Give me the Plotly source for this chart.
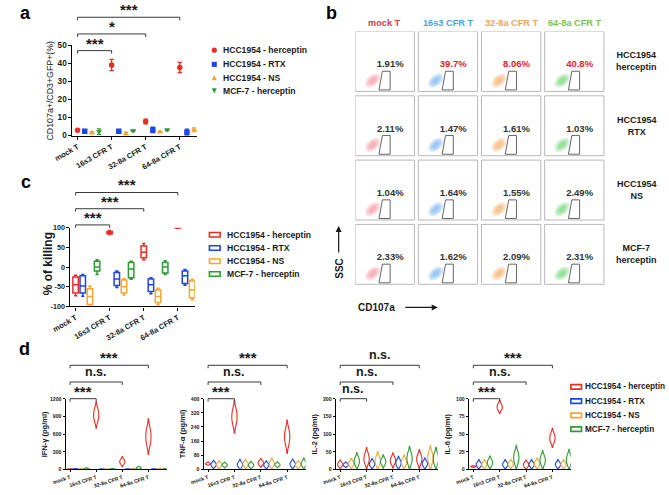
import numpy as np
import plotly.graph_objects as go

W, H = 669, 495
FONT = "Arial, Liberation Sans, sans-serif"
INK = "#1a1a1a"

# ------------------------------------------------------------------ data
categories = ["mock T", "16s3 CFR T", "32-8a CFR T", "64-8a CFR T"]
series_names = ["HCC1954 - herceptin", "HCC1954 - RTX", "HCC1954 - NS", "MCF-7 - herceptin"]
series_colors = ["#ee2a24", "#1c46e8", "#f7a531", "#2f9b32"]
series_symbols = ["circle", "square", "triangle-up", "triangle-down"]

# panel a: CD107a+ / CD3+GFP+ (%) mean and SD
a_herceptin_mean = [2.9, 39.1, 7.8, 37.7]
a_herceptin_sd = [0.3, 3.1, 1.3, 2.8]
a_rtx_mean = [2.4, 2.4, 3.1, 1.8]
a_rtx_sd = [0.4, 0.3, 1.5, 1.8]
a_ns_mean = [1.5, 1.1, 2.0, 3.2]
a_ns_sd = [0.6, 0.8, 0.4, 1.0]
a_mcf7_mean = [2.2, 2.7, 3.2, 2.0]
a_mcf7_sd = [1.5, 0.3, 0.4, 1.0]

# panel b: flow cytometry gates (% CD107a+)
b_rows = ["HCC1954<br>herceptin", "HCC1954<br>RTX", "HCC1954<br>NS", "MCF-7<br>herceptin"]
b_column_colors = ["#d83a55", "#4aa3dc", "#f2a462", "#7cc253"]
b_blob_colors = ["#f5a0aa", "#84bbf2", "#f6b576", "#7ddc82"]
b_pct_herceptin = [1.91, 39.7, 8.06, 40.8]
b_pct_rtx = [2.11, 1.47, 1.61, 1.03]
b_pct_ns = [1.04, 1.64, 1.55, 2.49]
b_pct_mcf7 = [2.33, 1.62, 2.09, 2.31]

# panel c: % of killing (box statistics)
c_herceptin_min = [-73, 83, 19, 99]
c_herceptin_q1 = [-66, 85, 24, 99.3]
c_herceptin_med = [-45, 88, 38, 99.6]
c_herceptin_q3 = [-25, 91, 54, 99.8]
c_herceptin_max = [-21, 93, 60, 100]
c_rtx_min = [-74, -52, -68, -46]
c_rtx_q1 = [-66, -47, -62, -42]
c_rtx_med = [-48, -30, -45, -22]
c_rtx_q3 = [-22, -14, -30, -10]
c_rtx_max = [-19, -10, -27, -6]
c_ns_min = [-100, -71, -96, -83]
c_ns_q1 = [-95, -66, -90, -78]
c_ns_med = [-75, -50, -75, -58]
c_ns_q3 = [-55, -33, -58, -35]
c_ns_max = [-48, -29, -54, -31]
c_mcf7_min = [-19, -31, -19, -10]
c_mcf7_q1 = [-10, -27, -15, -6]
c_mcf7_med = [0, -5, 0, 5]
c_mcf7_q3 = [15, 12, 12, 15]
c_mcf7_max = [19, 15, 16, 19]

# panel d: cytokine replicates (pg/ml), one list per category
ifng_herceptin = [[4, 6, 8], [841, 924, 1007], [101, 132, 163], [444, 556, 668]]
ifng_rtx = [[5, 7, 10], [3, 5, 7], [3, 5, 7], [3, 5, 8]]
ifng_ns = [[4, 7, 10], [3, 5, 7], [5, 8, 11], [5, 8, 11]]
ifng_mcf7 = [[8, 13, 18], [5, 8, 11], [15, 25, 35], [3, 5, 8]]

tnfa_herceptin = [[29, 32, 36], [263, 297, 332], [27, 36, 46], [149, 184, 219]]
tnfa_rtx = [[18, 27, 36], [16, 27, 38], [17, 25, 34], [19, 30, 40]]
tnfa_ns = [[17, 26, 35], [20, 30, 40], [21, 32, 44], [17, 26, 35]]
tnfa_mcf7 = [[19, 25, 31], [16, 24, 32], [20, 26, 32], [21, 32, 44]]

il2_herceptin = [[10, 14, 19], [19, 30, 42], [17, 25, 33], [19, 29, 39]]
il2_rtx = [[10, 13, 16], [10, 15, 21], [11, 18, 25], [10, 16, 22]]
il2_ns = [[11, 16, 22], [15, 24, 34], [13, 20, 28], [19, 32, 45]]
il2_mcf7 = [[14, 23, 32], [15, 22, 29], [19, 31, 44], [18, 30, 42]]

il6_herceptin = [[3.5, 4, 4.5], [85, 88, 92], [4, 6.5, 9], [39.5, 44.5, 49.5]]
il6_rtx = [[4.5, 7, 9.5], [4.5, 7, 9.5], [4.5, 7, 9.5], [4.5, 7, 9.5]]
il6_ns = [[4.5, 7, 9.5], [5, 7.5, 10], [5, 8, 11], [4.5, 7, 9.5]]
il6_mcf7 = [[6, 9.5, 13], [10, 16.5, 23], [8, 13, 18], [8, 13.5, 19]]

d_titles = ["IFN-\u03b3 (pg/ml)", "TNF-\u03b1 (pg/ml)", "IL-2 (pg/ml)", "IL-6 (pg/ml)"]
d_yticks = [[0, 300, 600, 900, 1200], [0, 80, 160, 240, 320, 400], [0, 50, 100, 150, 200], [0, 25, 50, 75, 100]]
d_sig = [["***", "n.s.", "***"], ["***", "n.s.", "***"], ["n.s.", "n.s.", "n.s."], ["***", "n.s.", "***"]]
a_sig = ["***", "*", "***"]
c_sig = ["***", "***", "***"]

# ------------------------------------------------------------------ geometry
group_offsets = [0.0, 0.21, 0.42, 0.63]
RANGE_AC = [-0.15, 3.5]
RANGE_D = [-0.17, 3.7]


def xdom(l, r):
    return [l / W, r / W]


def ydom(t, b):
    return [1 - b / H, 1 - t / H]


def px_x(dom_px, rng, v):
    return dom_px[0] + (v - rng[0]) / (rng[1] - rng[0]) * (dom_px[1] - dom_px[0])


fig = go.Figure()
shapes = []
ann = []


def cat_xaxis(dom_px, rng, anchor, fsize, angle):
    return dict(domain=xdom(*dom_px), range=rng, anchor=anchor, tickmode="array",
                tickvals=[0, 1, 2, 3], ticktext=categories, tickangle=angle,
                tickfont=dict(size=fsize, family=FONT, color=INK, weight="bold"),
                showline=True, linecolor="black", linewidth=1.2, ticks="outside",
                ticklen=3, tickwidth=1, tickcolor="black", showgrid=False,
                zeroline=False, fixedrange=True)


def num_yaxis(dom_px, rng, anchor, tickvals, fsize):
    return dict(domain=ydom(*dom_px), range=rng, anchor=anchor, tickmode="array",
                tickvals=tickvals, ticktext=[str(v) for v in tickvals],
                tickfont=dict(size=fsize, family=FONT, color=INK, weight="bold"),
                showline=True, linecolor="black", linewidth=1.2, ticks="outside",
                ticklen=3, tickwidth=1, tickcolor="black", showgrid=False,
                zeroline=False, fixedrange=True)


def bracket(dom_px, rng, x1, ypx, label, fsize):
    l = px_x(dom_px, rng, 0)
    r = px_x(dom_px, rng, x1)
    col = "#3a3a3a"
    for (xa, ya, xb, yb) in [(l, ypx, r, ypx), (l, ypx, l, ypx + 3), (r, ypx, r, ypx + 3)]:
        shapes.append(dict(type="line", xref="paper", yref="paper", x0=xa / W, x1=xb / W,
                           y0=1 - ya / H, y1=1 - yb / H, line=dict(color=col, width=1)))
    star = label.startswith("*")
    ann.append(dict(x=(l + r) / 2 / W, y=1 - (ypx + (3 if star else -1)) / H, xref="paper", yref="paper",
                    text=label, showarrow=False, xanchor="center", yanchor="bottom",
                    font=dict(size=fsize + (3 if star else 0.5), family=FONT, color=INK, weight="bold")))


def rotated_label(xpx, ypx, text, size, bold=True):
    ann.append(dict(x=xpx / W, y=1 - ypx / H, xref="paper", yref="paper", text=text, textangle=-90,
                    showarrow=False, xanchor="center", yanchor="middle",
                    font=dict(size=size, family=FONT, color=INK, weight="bold" if bold else "normal")))


def panel_letter(xpx, ypx, t):
    ann.append(dict(x=xpx / W, y=1 - ypx / H, xref="paper", yref="paper", text=t, showarrow=False,
                    xanchor="center", yanchor="middle",
                    font=dict(size=18, family=FONT, color="black", weight="bold")))


def legend_text(xpx, ypx, t, size=8.6):
    ann.append(dict(x=xpx / W, y=1 - ypx / H, xref="paper", yref="paper", text=t, showarrow=False,
                    xanchor="left", yanchor="middle", borderpad=0,
                    font=dict(size=size, family=FONT, color=INK, weight="bold")))


def legend_rects(x0, ys, tx, size=8.6):
    for name, col, ypx in zip(series_names, series_colors, ys):
        shapes.append(dict(type="rect", xref="paper", yref="paper", x0=x0 / W, x1=(x0 + 11) / W,
                           y0=1 - (ypx + 2.3) / H, y1=1 - (ypx - 2.3) / H,
                           line=dict(color=col, width=1.6), fillcolor="white"))
        legend_text(tx, ypx, name, size)


# ------------------------------------------------------------------ panel a
A_X, A_Y = (55, 183), (42, 134)
a_means = [a_herceptin_mean, a_rtx_mean, a_ns_mean, a_mcf7_mean]
a_sds = [a_herceptin_sd, a_rtx_sd, a_ns_sd, a_mcf7_sd]
for g in range(4):
    fig.add_trace(go.Scatter(
        x=[k + group_offsets[g] for k in range(4)], y=a_means[g], mode="markers",
        marker=dict(symbol=series_symbols[g], size=5.5, color=series_colors[g], line=dict(width=0)),
        error_y=dict(type="data", array=a_sds[g], color=series_colors[g], thickness=1.3, width=2.2),
        cliponaxis=False, showlegend=False, xaxis="x", yaxis="y", hoverinfo="skip"))

for i, (k, ypx) in enumerate(zip([3, 2, 1], [13.5, 30.5, 47.5])):
    bracket(A_X, RANGE_AC, k, ypx, a_sig[i], 12)

a_leg_y = [47, 61.5, 75, 88.5]
for g, ypx in enumerate(a_leg_y):
    cx, cy, s = 201, ypx, 2.6
    col = series_colors[g]
    if g == 0:
        shapes.append(dict(type="circle", xref="paper", yref="paper", x0=(cx - s) / W, x1=(cx + s) / W,
                           y0=1 - (cy + s) / H, y1=1 - (cy - s) / H, fillcolor=col, line=dict(width=0)))
    elif g == 1:
        shapes.append(dict(type="rect", xref="paper", yref="paper", x0=(cx - s) / W, x1=(cx + s) / W,
                           y0=1 - (cy + s) / H, y1=1 - (cy - s) / H, fillcolor=col, line=dict(width=0)))
    else:
        d = 1 if g == 2 else -1
        p = "M {:.5f},{:.5f} L {:.5f},{:.5f} L {:.5f},{:.5f} Z".format(
            (cx - s) / W, 1 - (cy + d * s) / H, (cx + s) / W, 1 - (cy + d * s) / H, cx / W, 1 - (cy - d * s) / H)
        shapes.append(dict(type="path", xref="paper", yref="paper", path=p, fillcolor=col, line=dict(width=0)))
    legend_text(209, ypx, series_names[g])

rotated_label(32, 88, "CD107a+/CD3+GFP+(%)", 8.8, bold=False)

# ------------------------------------------------------------------ panel c
C_X, C_Y = (53, 181), (228, 308)
c_stats = [
    (c_herceptin_min, c_herceptin_q1, c_herceptin_med, c_herceptin_q3, c_herceptin_max),
    (c_rtx_min, c_rtx_q1, c_rtx_med, c_rtx_q3, c_rtx_max),
    (c_ns_min, c_ns_q1, c_ns_med, c_ns_q3, c_ns_max),
    (c_mcf7_min, c_mcf7_q1, c_mcf7_med, c_mcf7_q3, c_mcf7_max),
]
for g in range(4):
    mn, q1, md, q3, mx = c_stats[g]
    fig.add_trace(go.Box(
        x=[k + group_offsets[g] for k in range(4)], q1=q1, median=md, q3=q3,
        lowerfence=mn, upperfence=mx, width=0.16, whiskerwidth=0.6,
        line=dict(color=series_colors[g], width=1.5), fillcolor="white",
        boxpoints=False, showlegend=False, xaxis="x2", yaxis="y2", hoverinfo="skip"))

for i, (k, ypx) in enumerate(zip([3, 2, 1], [192, 208.5, 225])):
    bracket(C_X, RANGE_AC, k, ypx, c_sig[i], 12)
legend_rects(196, [235, 248.5, 262, 275], 213)
rotated_label(30, 265, "% of killing", 12)

# ------------------------------------------------------------------ panel b
B_X, B_Y = (346, 606), (28, 290)
UX = (B_X[1] - B_X[0]) / 4
UY = (B_Y[1] - B_Y[0]) / 4
BOX = 61
b_pcts = [b_pct_herceptin, b_pct_rtx, b_pct_ns, b_pct_mcf7]


def ellipse_path(cx, cy, a, b, ang_deg, n=36):
    t = np.linspace(0, 2 * np.pi, n, endpoint=False)
    ang = np.deg2rad(ang_deg)
    xs = a * np.cos(t) * np.cos(ang) - b * np.sin(t) * np.sin(ang)
    ys = a * np.cos(t) * np.sin(ang) + b * np.sin(t) * np.cos(ang)
    pts = [(cx + x / UX, cy - y / UY) for x, y in zip(xs, ys)]
    return "M " + " L ".join("{:.4f},{:.4f}".format(x, y) for x, y in pts) + " Z"


tx, ty, tt, tc = [], [], [], []
for r in range(4):
    for c in range(4):
        shapes.append(dict(type="rect", xref="x3", yref="y3", x0=c, x1=c + BOX / UX, y0=r, y1=r + BOX / UY,
                           line=dict(color="#b8b8b8", width=1), fillcolor="rgba(0,0,0,0)", layer="below"))
        bx, by = c + 18 / UX, r + 50 / UY
        for (sa, sb, op) in [(9.0, 5.6, 0.3), (6.8, 4.0, 0.4), (4.3, 2.4, 0.5)]:
            shapes.append(dict(type="path", xref="x3", yref="y3", path=ellipse_path(bx, by, sa, sb, 40),
                               fillcolor=b_blob_colors[c], opacity=op, line=dict(width=0), layer="below"))
        gate = [(28, 40.5), (36, 40.5), (36, 59.5), (24.5, 59.5)]
        p = "M " + " L ".join("{:.4f},{:.4f}".format(c + gx / UX, r + gy / UY) for gx, gy in gate) + " Z"
        shapes.append(dict(type="path", xref="x3", yref="y3", path=p, line=dict(color="#555555", width=0.9)))
        v = b_pcts[r][c]
        tx.append(c + 36 / UX)
        ty.append(r + 34 / UY)
        tt.append("{:.3g}%".format(v))
        tc.append("#e8202a" if v > 5 else "#333333")

fig.add_trace(go.Scatter(x=tx, y=ty, text=tt, mode="text", textposition="middle center",
                         textfont=dict(size=9.5, family=FONT, color=tc, weight="bold"),
                         xaxis="x3", yaxis="y3", showlegend=False, hoverinfo="skip", cliponaxis=False))

for c in range(4):
    ann.append(dict(x=c + 30.5 / UX, y=1 - 19 / H, xref="x3", yref="paper", text=categories[c], showarrow=False,
                    xanchor="center", yanchor="middle",
                    font=dict(size=9.2, family=FONT, color=b_column_colors[c], weight="bold")))
for r in range(4):
    ann.append(dict(x=636 / W, y=r + 30.5 / UY, xref="paper", yref="y3", text=b_rows[r], showarrow=False,
                    xanchor="center", yanchor="middle", align="center",
                    font=dict(size=9, family=FONT, color=INK, weight="bold")))

rotated_label(329, 269, "SSC", 10)
ann.append(dict(x=329 / W, y=1 - 226 / H, xref="paper", yref="paper", text="", showarrow=True,
                ax=0, ay=28, arrowhead=2, arrowsize=1, arrowwidth=1.2, arrowcolor=INK))
ann.append(dict(x=368 / W, y=1 - 309 / H, xref="paper", yref="paper", text="CD107a", showarrow=False,
                xanchor="center", yanchor="middle", font=dict(size=10, family=FONT, color=INK, weight="bold")))
ann.append(dict(x=431 / W, y=1 - 309 / H, xref="paper", yref="paper", text="", showarrow=True,
                ax=-34, ay=0, arrowhead=2, arrowsize=1, arrowwidth=1.2, arrowcolor=INK))

# ------------------------------------------------------------------ panel d
D_X = [(48, 152), (190, 295), (326, 431), (463, 568)]
D_Y = (402, 474)
d_data = [
    [ifng_herceptin, ifng_rtx, ifng_ns, ifng_mcf7],
    [tnfa_herceptin, tnfa_rtx, tnfa_ns, tnfa_mcf7],
    [il2_herceptin, il2_rtx, il2_ns, il2_mcf7],
    [il6_herceptin, il6_rtx, il6_ns, il6_mcf7],
]
for p in range(4):
    xa, ya = "x{}".format(p + 4), "y{}".format(p + 4)
    for g in range(4):
        for k in range(4):
            vals = d_data[p][g][k]
            fig.add_trace(go.Violin(
                x=[k + group_offsets[g]] * len(vals), y=vals, width=0.2, points=False,
                spanmode="soft", side="both", scalemode="width",
                line=dict(color=series_colors[g], width=1.1), fillcolor="rgba(255,255,255,0.85)",
                box=dict(visible=False), meanline=dict(visible=False),
                xaxis=xa, yaxis=ya, showlegend=False, hoverinfo="skip"))
    for i, (k, ypx) in enumerate(zip([3, 2, 1], [368, 385, 402])):
        bracket(D_X[p], RANGE_D, k, ypx, d_sig[p][i], 12)
    rotated_label(D_X[p][0] - 22, 438, d_titles[p], 7.5)

legend_rects(568, [390, 404.5, 419, 433], 582, 8.2)

# panel letters
panel_letter(7, 9, "a")
panel_letter(322, 9, "b")
panel_letter(7, 181, "c")
panel_letter(6, 351, "d")

# ------------------------------------------------------------------ layout
layout = dict(
    width=W, height=H, margin=dict(l=0, r=0, t=0, b=0), paper_bgcolor="white", plot_bgcolor="rgba(0,0,0,0)",
    showlegend=False, boxmode="overlay", violinmode="overlay", font=dict(family=FONT),
    shapes=shapes, annotations=ann,
    xaxis=cat_xaxis(A_X, RANGE_AC, "y", 7.5, -30),
    yaxis=num_yaxis(A_Y, [0, 50], "x", [0, 10, 20, 30, 40, 50], 8.2),
    xaxis2=cat_xaxis(C_X, RANGE_AC, "y2", 7.5, -30),
    yaxis2=num_yaxis(C_Y, [-100, 100], "x2", [-100, -50, 0, 50, 100], 7.2),
    xaxis3=dict(domain=xdom(*B_X), range=[0, 4], visible=False, fixedrange=True, anchor="y3"),
    yaxis3=dict(domain=ydom(*B_Y), range=[4, 0], visible=False, fixedrange=True, anchor="x3"),
)
for p in range(4):
    layout["xaxis{}".format(p + 4)] = cat_xaxis(D_X[p], RANGE_D, "y{}".format(p + 4), 5.2, -18)
    yt = d_yticks[p]
    layout["yaxis{}".format(p + 4)] = num_yaxis(D_Y, [yt[0], yt[-1]], "x{}".format(p + 4), yt, 5.2)
    layout["yaxis{}".format(p + 4)]["ticklen"] = 2
    layout["xaxis{}".format(p + 4)]["ticklen"] = 2

fig.update_layout(**layout)
fig.write_html("out.html", config={"displayModeBar": False},
               post_script="document.body.style.margin='0';document.body.style.overflow='hidden';")
